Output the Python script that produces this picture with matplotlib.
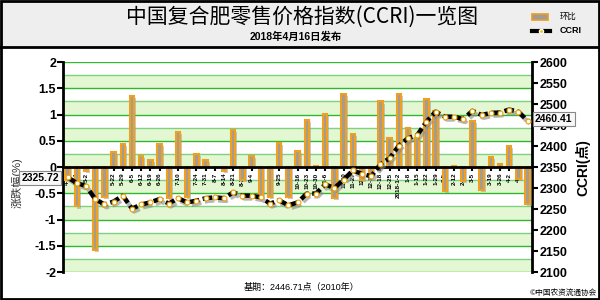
import matplotlib
matplotlib.use("Agg")
import matplotlib.pyplot as plt
import matplotlib.patheffects as pe
from matplotlib.patches import Rectangle
from matplotlib.lines import Line2D

plt.rcParams['font.family'] = ['Liberation Sans', 'Noto Sans CJK SC', 'DejaVu Sans']

# 发布日期（周）
dates = ["4-17", "4-24", "5-2", "5-8", "5-15", "5-22", "5-29", "6-5", "6-12", "6-19",
         "6-26", "7-3", "7-10", "7-17", "7-24", "7-31", "8-7", "8-14", "8-21", "8-28",
         "9-4", "9-11", "9-18", "9-25", "10-2", "10-16", "10-23", "10-30", "11-6", "11-13",
         "11-20", "11-27", "12-4", "12-11", "12-18", "12-25", "2018-1-2", "1-8", "1-15", "1-22",
         "1-29", "2-5", "2-12", "2-26", "3-5", "3-12", "3-19", "3-26", "4-2", "4-9", "4-16"]

# 环比 (%)
huanbi = [-0.25, -0.75, -0.08, -1.57, -0.56, 0.29, 0.44, 1.36, 0.21, 0.14,
          0.44, -0.59, 0.67, -0.56, 0.25, 0.14, 0.01, -0.07, 0.71, -0.25,
          0.21, -0.56, -0.56, 0.46, -0.56, 0.31, 0.90, 0.02, 1.01, -0.59,
          1.39, 0.64, -0.25, -0.15, 1.25, 0.56, 1.40, 0.74, 0.55, 1.30,
          1.06, -0.45, 0.03, -0.27, 0.88, -0.43, 0.19, 0.06, 0.40, -0.22, -0.70]

# CCRI 指数
ccri = [2325.72, 2312, 2305, 2274, 2261, 2268, 2282, 2251, 2261, 2266,
        2274, 2263, 2276, 2266, 2270, 2276, 2278, 2276, 2290, 2282,
        2282, 2278, 2263, 2271, 2259, 2266, 2287, 2287, 2309, 2300,
        2320, 2342, 2334, 2328, 2357, 2371, 2401, 2419, 2426, 2458,
        2482, 2470, 2470, 2464, 2484, 2474, 2479, 2480, 2487, 2482, 2460.41]

x = list(range(len(dates)))

fig = plt.figure(figsize=(6, 3), dpi=100)
fig.patch.set_facecolor("white")

# 标题栏
fig.patches.append(Rectangle((0, 0.843), 1, 0.157, transform=fig.transFigure,
                             facecolor="#eeeeee", edgecolor="none", zorder=0))
fig.lines.append(Line2D([0, 1], [0.843, 0.843], transform=fig.transFigure, color="black", lw=2))
fig.patches.append(Rectangle((0.002, 0.003), 0.996, 0.994, transform=fig.transFigure,
                             fill=False, edgecolor="black", lw=2, zorder=5))

fig.text(0.503, 0.945, "中国复合肥零售价格指数(CCRI)一览图", ha="center", va="center",
         fontsize=15, family=['Noto Sans CJK SC', 'DejaVu Sans'])
fig.text(0.493, 0.878, "2018年4月16日发布", ha="center", va="center", fontsize=7.5,
         fontweight="bold")

# 图例
fig.patches.append(Rectangle((0.887, 0.933), 0.027, 0.02, transform=fig.transFigure,
                             facecolor="#9c9c9c", edgecolor="#f29a1a", lw=1.2))
fig.text(0.933, 0.943, "环比", ha="left", va="center", fontsize=6)
fig.lines.append(Line2D([0.887, 0.917], [0.897, 0.897], transform=fig.transFigure,
                        color="black", lw=3))
fig.lines.append(Line2D([0.902], [0.897], transform=fig.transFigure, marker="o",
                        markersize=3, markerfacecolor="#f5c000", markeredgecolor="white"))
fig.text(0.933, 0.897, "CCRI", ha="left", va="center", fontsize=6.5, fontweight="bold")

ax = fig.add_axes([0.105, 0.093, 0.782, 0.700])
ax.set_xlim(-0.5, len(dates) - 0.5)
ax.set_ylim(-2, 2)

# 背景色带与网格
for i in range(16):
    lo = -2 + i * 0.25
    if i % 2 == 0:
        ax.axhspan(lo, lo + 0.25, color="#e3f8d2", zorder=0, lw=0)
for i in range(17):
    v = -2 + i * 0.25
    if abs(v) > 1e-9:
        ax.axhline(v, color="#2fb82f" if i % 2 == 0 else "#7fd07f", lw=1, zorder=1)

bars = ax.bar(x, huanbi, width=0.48, facecolor="#a39c92", edgecolor="#f0a020",
              lw=1.5, zorder=3)
for b in bars:
    b.set_path_effects([pe.SimplePatchShadow(offset=(1.5, -1.5), shadow_rgbFace="#999999", alpha=0.5),
                        pe.Normal()])

ax.spines["bottom"].set_position(("data", 0))
ax.spines["bottom"].set_linewidth(2)
ax.spines["bottom"].set_zorder(4)
ax.spines["top"].set_visible(False)
ax.spines["left"].set_linewidth(2)
ax.spines["right"].set_linewidth(2)
ax.set_xticks(x)
ax.set_xticklabels(dates, rotation=90, fontsize=4.5, fontweight="bold")
ax.tick_params(axis="x", length=3, width=1.5, pad=1)
ax.set_yticks([-2, -1.5, -1, -0.5, 0, 0.5, 1, 1.5, 2])
ax.set_yticklabels(["-2", "-1.5", "-1", "-0.5", "0", "0.5", "1", "1.5", "2"],
                   fontsize=9, fontweight="bold")
ax.tick_params(axis="y", length=4, width=1.5, pad=1)

ax2 = ax.twinx()
ax2.set_ylim(2100, 2600)
ax2.set_yticks(range(2100, 2601, 50))
ax2.set_yticklabels([str(v) for v in range(2100, 2601, 50)], fontsize=9, fontweight="bold")
ax2.tick_params(axis="y", length=4, width=1.5, pad=1)
for s in ax2.spines.values():
    s.set_visible(False)
ax2.plot(x, ccri, color="black", lw=3.2, dashes=(2.2, 0.8), zorder=5,
         path_effects=[pe.SimpleLineShadow(offset=(1.5, -2), shadow_color="#888888", alpha=0.6),
                       pe.Normal()])
ax2.plot(x, ccri, ls="none", marker="o", markersize=3.5, markerfacecolor="white",
         markeredgecolor="#f0a000", markeredgewidth=0.8, zorder=6)

# 轴标题
fig.text(0.028, 0.39, "涨跌幅(%)", rotation=90, ha="center", va="center", fontsize=8,
         color="#333333")
fig.text(0.972, 0.44, "CCRI(点)", rotation=90, ha="center", va="center", fontsize=10,
         fontweight="bold")

# 首尾数值框
box = dict(boxstyle="square,pad=0.2", facecolor="#f8f8f8", edgecolor="#888888", lw=0.8)
fig.text(0.067, 0.407, "2325.72", ha="center", va="center", fontsize=7.5, fontweight="bold",
         bbox=box, zorder=10)
fig.text(0.923, 0.603, "2460.41", ha="center", va="center", fontsize=7.5, fontweight="bold",
         bbox=box, zorder=10)

fig.text(0.503, 0.043, "基期：2446.71点（2010年）", ha="center", va="center", fontsize=6.5)
fig.text(0.995, 0.025, "©中国农资流通协会", ha="right", va="center", fontsize=5.5,
         family=['Noto Sans CJK SC', 'DejaVu Sans'])

fig.savefig("out.png", dpi=100)
